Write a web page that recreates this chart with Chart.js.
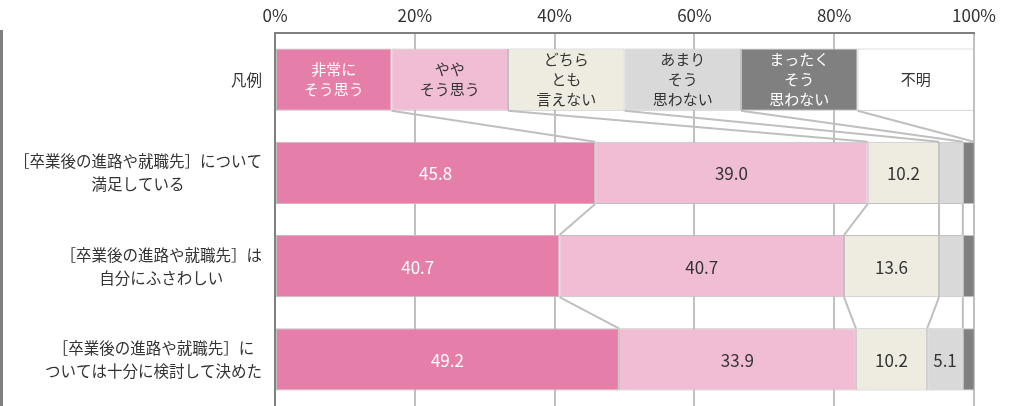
<!DOCTYPE html>
<html lang="ja">
<head>
<meta charset="UTF-8">
<title>卒業後の進路や就職先</title>
<style>
  html, body { margin: 0; padding: 0; background: #fff; }
  #wrap { width: 1025px; height: 406px; }
  canvas { display: block; }
</style>
</head>
<body>
<div id="wrap"><canvas id="chart" width="1025" height="406"></canvas></div>
<script src="https://cdn.jsdelivr.net/npm/chart.js"></script>
<script>
// row labels (first row is the legend row)
const categories = [
  ['凡例'],
  ['［卒業後の進路や就職先］について', '満足している'],
  ['［卒業後の進路や就職先］は', '自分にふさわしい'],
  ['［卒業後の進路や就職先］に', 'ついては十分に検討して決めた']
];
const seriesNames = ['非常にそう思う', 'ややそう思う', 'どちらとも言えない', 'あまりそう思わない', 'まったくそう思わない', '不明'];
const legendLabels = [
  ['非常に', 'そう思う'],
  ['やや', 'そう思う'],
  ['どちら', 'とも', '言えない'],
  ['あまり', 'そう', '思わない'],
  ['まったく', 'そう', '思わない'],
  ['不明']
];
// percentages per question
const veryMuch = [45.8, 40.7, 49.2];
const somewhat = [39.0, 40.7, 33.9];
const neutral  = [10.2, 13.6, 10.2];
const notMuch  = [3.4, 3.4, 5.1];
const notAtAll = [1.7, 1.7, 1.7];
const unknown  = [0, 0, 0];
const tickValues = [0, 20, 40, 60, 80, 100];

const series = [veryMuch, somewhat, neutral, notMuch, notAtAll, unknown];
const colors = ['#E57FAA', '#F1BDD5', '#EEECE1', '#D9D9D9', '#808080', '#FFFFFF'];
const textColors = ['#FFFFFF', '#333333', '#333333', '#333333', '#FFFFFF', '#333333'];
const legendShare = 100 / legendLabels.length;
const FONT = '"Noto Sans CJK JP", "Noto Sans", sans-serif';

const datasets = series.map((vals, i) => ({
  label: seriesNames[i],
  data: [legendShare, ...vals],
  backgroundColor: colors[i],
  borderColor: '#C0C0C0',
  borderWidth: 1,
  borderSkipped: false,
  barPercentage: 0.667,
  categoryPercentage: 1
}));

// connector lines, value labels, legend texts and row labels
const overlay = {
  id: 'overlay',
  beforeDraw(chart) {
    const ctx = chart.ctx;
    ctx.save();
    ctx.fillStyle = '#808080';
    ctx.fillRect(0, 30, 3, 406);
    ctx.restore();
  },
  afterDatasetsDraw(chart) {
    const ctx = chart.ctx;
    const xs = chart.scales.x;
    const ys = chart.scales.y;
    const bar0 = chart.getDatasetMeta(0).data;
    const half = bar0[0].height / 2;

    // cumulative boundaries for each row
    const bounds = categories.map((_, r) => {
      let sum = 0;
      const b = [];
      for (let k = 0; k < series.length - 1; k++) {
        sum += datasets[k].data[r];
        b.push(Math.min(sum, 100));
      }
      return b;
    });

    ctx.save();
    ctx.strokeStyle = '#BFBFBF';
    ctx.lineWidth = 2;
    for (let r = 0; r < categories.length - 1; r++) {
      const yA = bar0[r].y + half;
      const yB = bar0[r + 1].y - half;
      bounds[r].forEach((v, k) => {
        ctx.beginPath();
        ctx.moveTo(xs.getPixelForValue(v), yA);
        ctx.lineTo(xs.getPixelForValue(bounds[r + 1][k]), yB);
        ctx.stroke();
      });
    }

    ctx.textAlign = 'center';
    ctx.textBaseline = 'middle';

    // legend row texts
    ctx.font = '15px ' + FONT;
    legendLabels.forEach((lines, i) => {
      const el = chart.getDatasetMeta(i).data[0];
      const cx = (el.x + el.base) / 2;
      ctx.fillStyle = textColors[i];
      lines.forEach((t, j) => {
        ctx.fillText(t, cx, el.y + (j - (lines.length - 1) / 2) * 20);
      });
    });

    // value labels
    ctx.font = '17px ' + FONT;
    series.forEach((vals, i) => {
      const meta = chart.getDatasetMeta(i);
      vals.forEach((v, r) => {
        if (v < 5) return;
        const el = meta.data[r + 1];
        ctx.fillStyle = textColors[i];
        ctx.fillText(v.toFixed(1), (el.x + el.base) / 2, el.y + 1);
      });
    });

    // row labels, right aligned block with centred lines
    ctx.font = '15.5px ' + FONT;
    ctx.fillStyle = '#333333';
    categories.forEach((lines, r) => {
      const w = Math.max(...lines.map(t => ctx.measureText(t).width));
      const cx = 262 - w / 2;
      const cy = ys.getPixelForValue(r);
      lines.forEach((t, j) => {
        ctx.fillText(t, cx, cy + (j - (lines.length - 1) / 2) * 23);
      });
    });
    ctx.restore();
  }
};

new Chart(document.getElementById('chart'), {
  type: 'bar',
  data: { labels: categories.map(l => l.join('')), datasets },
  options: {
    indexAxis: 'y',
    responsive: false,
    animation: false,
    layout: { padding: { left: 0, right: 51, top: 0, bottom: 0 } },
    plugins: { legend: { display: false }, tooltip: { enabled: false } },
    scales: {
      x: {
        position: 'top',
        stacked: true,
        min: 0,
        max: 100,
        afterBuildTicks: s => { s.ticks = tickValues.map(v => ({ value: v })); },
        afterFit: s => { s.height = 33; },
        ticks: {
          callback: v => v + '%',
          color: '#333333',
          padding: 7,
          maxRotation: 0,
          font: { family: FONT, size: 17 }
        },
        grid: { color: '#C0C0C0', lineWidth: 2, drawTicks: false },
        border: { color: '#808080', width: 2 }
      },
      y: {
        stacked: true,
        afterFit: s => { s.width = 275; },
        ticks: { display: false },
        grid: { display: false, drawTicks: false },
        border: { color: '#808080', width: 2 }
      }
    }
  },
  plugins: [overlay]
});
</script>
</body>
</html>
